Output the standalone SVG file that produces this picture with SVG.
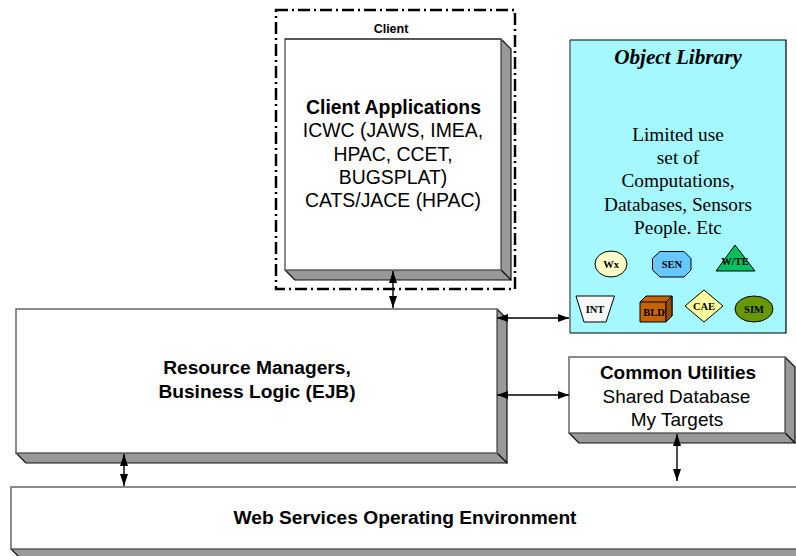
<svg xmlns="http://www.w3.org/2000/svg" width="796" height="556" viewBox="0 0 796 556">
<style>
text{font-family:"Liberation Sans",Arial,sans-serif;fill:#000;text-anchor:middle}
.b{font-weight:bold}
.s{font-family:"Liberation Serif","Times New Roman",serif;font-size:19.3px}
.i{font-family:"Liberation Serif","Times New Roman",serif;font-weight:bold;font-size:10.500px}
.f{fill:#fff;stroke:#666;stroke-width:1.5}
.d{fill:#999;stroke:#111;stroke-width:1.2;stroke-linejoin:round}
.t{stroke:#000;stroke-width:1}
.c{stroke:#000;stroke-width:1.4;fill:none;marker-start:url(#a);marker-end:url(#a)}
.v{stroke:#000;stroke-width:1.4;fill:none;marker-start:url(#v);marker-end:url(#v)}
</style>
<defs>
<marker id="a" viewBox="0 0 11 8" refX="11" refY="4" markerWidth="11" markerHeight="8" markerUnits="userSpaceOnUse" orient="auto-start-reverse"><path d="M0 0L11 4L0 8Z" fill="#000"/></marker>
<marker id="v" viewBox="0 0 12 8" refX="12" refY="4" markerWidth="12" markerHeight="8" markerUnits="userSpaceOnUse" orient="auto-start-reverse"><path d="M0 0L12 4L0 8Z" fill="#000"/></marker>
</defs>
<g id="client-boundary">
<rect x="276" y="10" width="239" height="279" fill="none" stroke="#000" stroke-width="2.500" stroke-dasharray="12 4 2 4"/>
<text class="b" x="391" y="33" font-size="12.5">Client</text>
</g>
<g id="client-applications">
<path class="d" d="M501 39L511 49V280L501 270Z"/>
<path class="d" d="M285 270H501L511 280H295Z"/>
<rect class="f" x="285" y="39" width="216" height="231"/>
<path d="M285 39H501" stroke="#222" fill="none"/>
<text class="b" x="393.500" y="114" font-size="19.400">Client Applications</text>
<text x="393" y="137" font-size="19.400">ICWC (JAWS, IMEA,</text>
<text x="393" y="161" font-size="19.400">HPAC, CCET,</text>
<text x="393" y="184" font-size="19.400">BUGSPLAT)</text>
<text x="393" y="207" font-size="19.400">CATS/JACE (HPAC)</text>
</g>
<g id="object-library">
<rect x="570" y="40" width="216" height="293" fill="#a5f8ff"/>
<path d="M570 40V333" stroke="#666" stroke-width="1.5" fill="none"/>
<path d="M570 40H786V333H570" stroke="#000" stroke-width="1.2" fill="none"/>
<text class="s" x="678" y="64" font-weight="bold" font-style="italic" style="font-size:21.200px">Object Library</text>
<text class="s" x="678" y="141">Limited use</text>
<text class="s" x="678" y="164">set of</text>
<text class="s" x="678" y="187">Computations,</text>
<text class="s" x="678" y="211">Databases, Sensors</text>
<text class="s" x="678" y="234">People. Etc</text>
</g>
<g id="wx"><ellipse class="t" cx="611" cy="264" rx="16" ry="13" fill="#ffffc8"/><text class="i" x="611" y="268">Wx</text></g>
<g id="sen"><path class="t" d="M660 251.500H684L691 258.500V270L684 277H660L652.500 270V258.500Z" fill="#66c8ff"/><text class="i" x="672" y="268">SEN</text></g>
<g id="wte"><path class="t" d="M735 245L755 271H716Z" fill="#00c060"/><text class="i" x="735" y="265">W/TE</text></g>
<g id="int"><path class="t" d="M576 296H614.500L606 322H584Z" fill="#f8f8f8"/><text class="i" x="595" y="313">INT</text></g>
<g id="bld"><path class="t" d="M640 302L646 296H672V316L666 322H640Z" fill="#c86400"/><path class="t" d="M640 302H666L672 296M666 302V322" fill="none"/><path class="t" d="M666 302L672 296V316L666 322Z" fill="#964b00"/><text class="i" x="654" y="316">BLD</text></g>
<g id="cae"><path class="t" d="M704 290L723 306L704 322L685 306Z" fill="#ffff9c"/><text class="i" x="704" y="310">CAE</text></g>
<g id="sim"><ellipse class="t" cx="754" cy="309" rx="19" ry="13" fill="#669900"/><text class="i" x="754" y="313">SIM</text></g>
<g id="resource-managers">
<path class="d" d="M497 309L507 319V463L497 453Z"/>
<path class="d" d="M16 453H497L507 463H26Z"/>
<rect class="f" x="16" y="309" width="481" height="144"/>
<text class="b" x="257" y="374" font-size="19.200">Resource Managers,</text>
<text class="b" x="257" y="398" font-size="19.200">Business Logic (EJB)</text>
</g>
<g id="common-utilities">
<path class="d" d="M785 357L795 367V443L785 433Z"/>
<path class="d" d="M569 433H785L795 443H579Z"/>
<rect class="f" x="569" y="357" width="216" height="76"/>
<text class="b" x="678" y="379" font-size="19">Common Utilities</text>
<text x="676.500" y="403" font-size="19">Shared Database</text>
<text x="677" y="426" font-size="19">My Targets</text>
</g>
<g id="web-services">
<path class="d" d="M11 549H800V559H21Z"/>
<rect class="f" x="11" y="487" width="790" height="62"/>
<text class="b" x="405" y="524" font-size="19.200">Web Services Operating Environment</text>
</g>
<g id="connectors">
<path class="v" d="M393 271V308"/>
<path class="c" d="M497 318H569"/>
<path class="c" d="M497 395H569"/>
<path class="v" d="M124 454V486"/>
<path class="v" d="M677 434V481"/>
</g>
</svg>
